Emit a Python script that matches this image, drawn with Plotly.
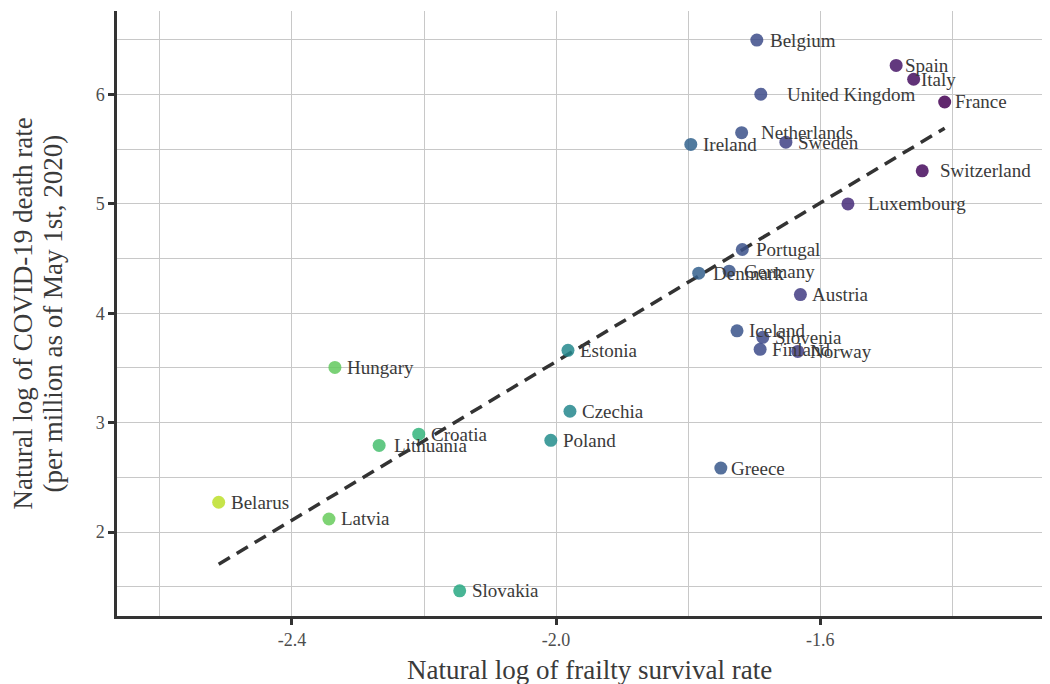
import numpy as np
import plotly.graph_objects as go

# ---- data ----
countries = ["Belgium", "Spain", "Italy", "France", "United Kingdom", "Netherlands",
             "Ireland", "Sweden", "Switzerland", "Luxembourg", "Portugal", "Denmark",
             "Germany", "Austria", "Iceland", "Slovenia", "Finland", "Norway",
             "Estonia", "Czechia", "Poland", "Croatia", "Lithuania", "Hungary",
             "Belarus", "Latvia", "Greece", "Slovakia"]
frailty_log = [-1.696, -1.485, -1.4585, -1.4115, -1.690, -1.719,
               -1.796, -1.652, -1.4455, -1.558, -1.718, -1.784,
               -1.738, -1.630, -1.726, -1.687, -1.691, -1.634,
               -1.982, -1.979, -2.008, -2.208, -2.268, -2.335,
               -2.511, -2.344, -1.7505, -2.146]
death_log = [6.498, 6.266, 6.140, 5.932, 6.003, 5.651,
             5.544, 5.565, 5.303, 5.000, 4.583, 4.367,
             4.385, 4.171, 3.840, 3.780, 3.670, 3.651,
             3.661, 3.104, 2.838, 2.895, 2.792, 3.505,
             2.272, 2.119, 2.585, 1.462]

x_tick_vals = [-2.4, -2.0, -1.6]
x_tick_labels = ["-2.4", "-2.0", "-1.6"]
x_minor_vals = [-2.6, -2.2, -1.8, -1.4]
y_tick_vals = [2, 3, 4, 5, 6]

x_title = "Natural log of frailty survival rate"
y_title_lines = ["Natural log of COVID-19 death rate", "(per million as of May 1st, 2020)"]

# label horizontal offsets (px) from point centre (layout, not data)
label_gap = {"United Kingdom": 26, "Luxembourg": 20, "Switzerland": 18,
             "Netherlands": 19, "Spain": 9, "Italy": 7, "Portugal": 14,
             "Denmark": 14.5, "Germany": 14.5, "Lithuania": 14.5,
             "Belgium": 13, "Greece": 10, "France": 10.5}
default_gap = 12

FONT = "Liberation Serif, Times New Roman, serif"
TXT = "#3a3a3a"

# page body has an 8px default margin; size the figure to fill the window
OFF = 8
W, H = 1050 - OFF, 684 - OFF
ML, MR, MT = 117 - OFF, 0, 11 - OFF
MB = H - (615.7 - OFF)

x = np.array(frailty_log)
y = np.array(death_log)
slope, intercept = np.polyfit(x, y, 1)
xl = np.array([x.min(), x.max()])
yl = slope * xl + intercept

cmax = x.max()
cmin = x.min() - (x.max() - x.min()) / 9.0

fig = go.Figure()
fig.add_trace(go.Scatter(
    x=xl, y=yl, mode="lines",
    line=dict(color="#333333", width=3.5, dash="13px,8px"),
    hoverinfo="skip", showlegend=False))
fig.add_trace(go.Scatter(
    x=frailty_log, y=death_log, mode="markers",
    marker=dict(size=13, color=frailty_log, colorscale="Viridis", reversescale=True,
                cmin=cmin, cmax=cmax, opacity=0.85, line=dict(width=0)),
    text=countries, showlegend=False))

for c, xv, yv in zip(countries, frailty_log, death_log):
    fig.add_annotation(x=xv, y=yv, text=c, showarrow=False, xanchor="left",
                       yanchor="middle", xshift=label_gap.get(c, default_gap) - 2,
                       font=dict(family=FONT, size=19, color=TXT))

# axis titles as paper annotations (tight line spacing like the reference)
pw = W - ML - MR
fig.add_annotation(xref="paper", yref="paper", x=(589.5 - 117) / pw, y=0,
                   yshift=-(670 - 615.7),
                   text=x_title, showarrow=False, xanchor="center", yanchor="middle",
                   font=dict(family=FONT, size=27, color=TXT))
for line, px in zip(y_title_lines, [22, 52]):
    fig.add_annotation(xref="paper", yref="paper", x=0, xshift=px - 117, y=0.5,
                       text=line, showarrow=False, textangle=-90,
                       xanchor="center", yanchor="middle",
                       font=dict(family=FONT, size=27, color=TXT))

axis_common = dict(showline=True, linecolor="#333333", linewidth=2.5,
                   ticks="outside", ticklen=6, tickwidth=2.5, tickcolor="#333333",
                   gridcolor="#c8c8c8", gridwidth=1, zeroline=False, automargin=False,
                   tickfont=dict(family=FONT, size=18, color="#4d4d4d"))

fig.update_xaxes(range=[-2.665, -1.252], tickmode="array", tickvals=x_tick_vals,
                 ticktext=x_tick_labels,
                 minor=dict(tickmode="array", tickvals=x_minor_vals, showgrid=True,
                            gridcolor="#c8c8c8", ticks=""),
                 **axis_common)
fig.update_yaxes(range=[1.232, 6.764], tickmode="array", tickvals=y_tick_vals,
                 minor=dict(dtick=0.5, tick0=0, showgrid=True, gridcolor="#c8c8c8", ticks=""),
                 **axis_common)

fig.update_layout(width=W, height=H, plot_bgcolor="white", paper_bgcolor="white",
                  margin=dict(l=ML, r=MR, t=MT, b=MB), showlegend=False,
                  font=dict(family=FONT))

fig.write_html("out.html")
